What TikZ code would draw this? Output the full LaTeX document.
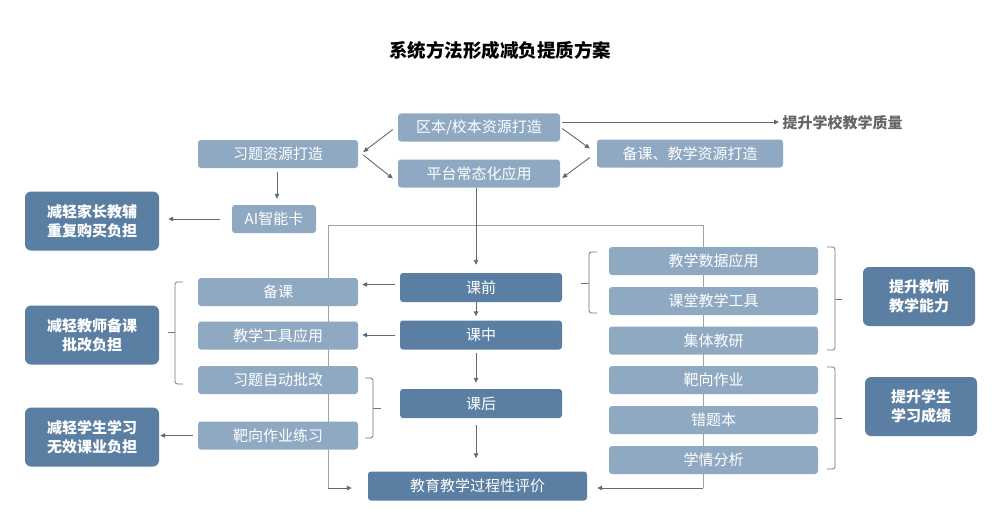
\documentclass[tikz,border=0pt]{standalone}
\usepackage{fontspec}
\setmainfont{Noto Sans CJK SC}
\usetikzlibrary{arrows.meta,calc}
\definecolor{lightbox}{HTML}{8FA9C2}
\definecolor{darkbox}{HTML}{5A7FA3}
\definecolor{linec}{HTML}{5E6A77}
\definecolor{framec}{HTML}{98A4B0}
\definecolor{bracec}{HTML}{6E7884}
\definecolor{goalc}{HTML}{666666}
\tikzset{
  lbox/.style={fill=lightbox, rounded corners=3pt, text=white, inner sep=0pt,
    minimum height=28pt, font=\fontsize{15}{17}\selectfont},
  cbox/.style={fill=darkbox, rounded corners=3pt, text=white, inner sep=0pt,
    minimum height=29pt, font=\fontsize{15}{17}\selectfont},
  dbox/.style={fill=darkbox, rounded corners=6pt, text=white, inner sep=0pt,
    minimum width=134pt, minimum height=59pt, align=center,
    font=\bfseries\fontsize{15}{19}\selectfont},
  rbox/.style={fill=darkbox, rounded corners=6pt, text=white, inner sep=0pt,
    minimum width=112pt, minimum height=59pt, align=center,
    font=\bfseries\fontsize{15}{18.5}\selectfont},
  arr/.style={draw=linec, line width=0.9pt, -{Triangle[length=5pt,width=4.5pt]}},
  frameline/.style={draw=framec, line width=1pt},
  bracket/.style={draw=bracec, line width=0.8pt, rounded corners=2.5pt},
}
\begin{document}
\begin{tikzpicture}[x=1pt,y=-1pt]
\useasboundingbox (0,0) rectangle (1000,532);
\fill[white] (0,0) rectangle (1000,532);

% title
\node[font=\bfseries\fontsize{18.5}{20}\selectfont] (title) at (500,50) {系统方法形成减负提质方案};

% frame lines (behind boxes)
\coordinate (fl) at (328,225);
\coordinate (fr) at (703,225);
\coordinate (fbl) at (328,488);
\coordinate (fbr) at (703,488);
\draw[frameline] (fbl) -- (fl) -- (fr) -- (fbr);

% top part
\node[lbox, minimum width=162pt] (qb) at (479,127.5) {区本/校本资源打造};
\node[lbox, minimum width=162pt] (pt) at (479,173.5) {平台常态化应用};
\node[lbox, minimum width=160pt] (xt) at (278,154) {习题资源打造};
\node[lbox, minimum width=186pt] (bz) at (690,153.5) {备课、教学资源打造};
\node[anchor=west, text=goalc, font=\bfseries\fontsize{15}{17}\selectfont] (goal) at (779,123) {提升学校教学质量};
\node[lbox, minimum width=84pt] (ai) at (274,219) {AI智能卡};
\node[dbox] (jz) at (92,221) {减轻家长教辅\\重复购买负担};

\draw[arr] ([xshift=-5pt,yshift=-2pt]qb.west) -- ([xshift=5pt,yshift=2pt]xt.east);
\draw[arr] ([xshift=5pt,yshift=-1pt]xt.east) -- ([xshift=-5pt,yshift=-5pt]pt.west);
\draw[arr] ([xshift=2pt,yshift=-1pt]qb.east) -- ([xshift=-7pt,yshift=5pt]bz.west);
\draw[arr] ([xshift=-7pt,yshift=-4pt]bz.west) -- ([xshift=2pt,yshift=-4.5pt]pt.east);
\draw[arr] ([xshift=2pt,yshift=5.5pt]qb.east) -- ([yshift=5.5pt]qb.east -| goal.west);
\draw[arr, shorten <=4pt, shorten >=6pt] (xt.south -| 277,0) -- (ai.north -| 277,0);
\draw[arr, shorten <=12pt, shorten >=9pt] (ai.west) -- (ai.west -| jz.east);

% central column
\coordinate (cx) at (476,0);
\node[cbox, minimum width=162pt] (kq) at (481,287.5) {课前};
\node[cbox, minimum width=162pt] (kz) at (481,335) {课中};
\node[cbox, minimum width=162pt] (kh) at (481,403.5) {课后};
\node[cbox, minimum width=219pt] (pj) at (477.5,486) {教育教学过程性评价};

\draw[arr, shorten >=8pt] (pt.south -| cx) -- (kq.north -| cx);
\draw[arr, shorten >=4pt] (kq.south -| cx) -- (kz.north -| cx);
\draw[arr, shorten <=3pt, shorten >=6pt] (kz.south -| cx) -- (kh.north -| cx);
\draw[arr, shorten <=7pt, shorten >=13pt] (kh.south -| cx) -- (pj.north -| cx);

% left column
\node[lbox, minimum width=160pt] (bk) at (278,292) {备课};
\node[lbox, minimum width=160pt] (gj) at (278,335.5) {教学工具应用};
\node[lbox, minimum width=160pt] (pg) at (278,380) {习题自动批改};
\node[lbox, minimum width=160pt] (bx) at (278,435.5) {靶向作业练习};

\node[dbox] (js) at (92,335) {减轻教师备课\\批改负担};
\node[dbox] (xs) at (92,437) {减轻学生学习\\无效课业负担};

\draw[arr, shorten <=5pt, shorten >=4pt] ([yshift=3pt]kq.west) -- ([yshift=3pt]kq.west -| bk.east);
\draw[arr, shorten <=5pt, shorten >=4pt] (kz.west) -- (kz.west -| gj.east);
\draw[arr, shorten <=5pt, shorten >=1pt] (bx.west) -- (bx.west -| xs.east);

% right column
\node[lbox, minimum width=209pt] (sj) at (713.5,261) {教学数据应用};
\node[lbox, minimum width=209pt] (kt) at (713.5,301) {课堂教学工具};
\node[lbox, minimum width=209pt] (jy) at (713.5,340.5) {集体教研};
\node[lbox, minimum width=209pt] (bz2) at (713.5,380) {靶向作业};
\node[lbox, minimum width=209pt] (ct) at (713.5,420) {错题本};
\node[lbox, minimum width=209pt] (xq) at (713.5,460) {学情分析};

\node[rbox] (ts) at (919,296.5) {提升教师\\教学能力};
\node[rbox] (tx) at (921,406.5) {提升学生\\学习成绩};

% bottom arrows of the frame
\draw[arr, shorten >=16pt] (fbl) -- (fbl -| pj.west);
\draw[arr, shorten >=10pt] (fbr) -- (fbr -| pj.east);

% brackets
\draw[bracket] (183,282) -- (175,282) -- (175,384) -- (183,384);
\draw[bracket] (175,332) -- (168,332);
\draw[bracket] (365,378) -- (373,378) -- (373,438) -- (365,438);
\draw[bracket] (373,408) -- (381,408);
\draw[bracket] (597,252) -- (589,252) -- (589,313) -- (597,313);
\draw[bracket] (589,283) -- (581,283);
\draw[bracket] (827,247) -- (835,247) -- (835,350) -- (827,350);
\draw[bracket] (835,299) -- (842,299);
\draw[bracket] (827,367) -- (835,367) -- (835,469) -- (827,469);
\draw[bracket] (835,418) -- (842,418);
\end{tikzpicture}
\end{document}
